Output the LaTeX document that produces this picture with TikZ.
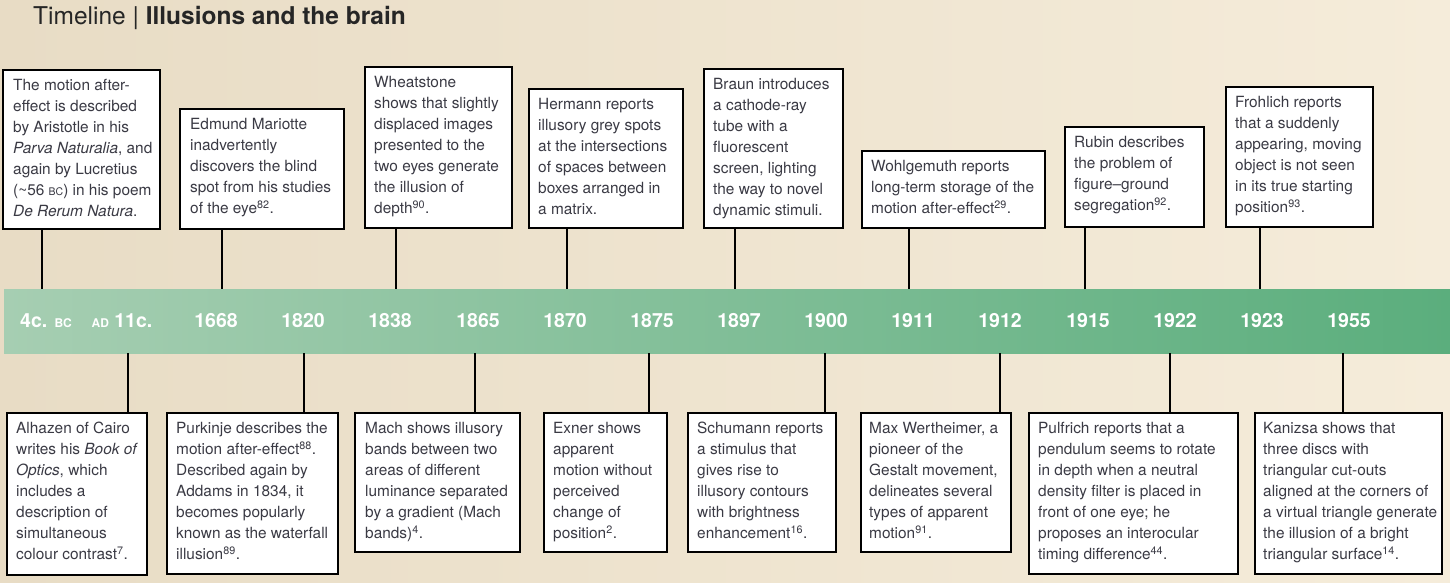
\documentclass[tikz,border=0pt]{standalone}
\usepackage{fontspec}
\setmainfont{TeX Gyre Heros}
\usetikzlibrary{calc}
\definecolor{bgL}{HTML}{E8DCC5}
\definecolor{bgR}{HTML}{F5ECDA}
\definecolor{barL}{HTML}{A6CEB2}
\definecolor{barR}{HTML}{5BAE7D}
\definecolor{txt}{HTML}{3A3A44}
\newcommand\sref[1]{\textsuperscript{#1}}
\newcommand\smc[1]{{\fontsize{10.5}{10.5}\selectfont #1}}
\newcommand\ysmc[1]{{\fontsize{12}{12}\selectfont #1}}
\begin{document}
\begin{tikzpicture}[x=1pt,y=-1pt,
  evbox/.style={draw=black, line width=1.1pt, fill=white, anchor=north west, inner sep=0pt, outer sep=0pt},
  evtext/.style={anchor=north west, inner sep=0pt, align=left, text=txt, font=\fontsize{15.4}{21}\selectfont},
  yr/.style={anchor=base, text=white, font=\bfseries\fontsize{19.5}{19.5}\selectfont},
  conn/.style={draw=black, line width=1.1pt}]
\useasboundingbox (0,0) rectangle (1450,583);
\fill[left color=bgL, right color=bgR] (0,0) rectangle (1450,583);

% title
\node[anchor=base west, inner sep=0pt, text=black!85, font=\fontsize{24.5}{24.5}\selectfont] (title) at (33,25)
  {Timeline | \textbf{Illusions and the brain}};

% bar
\node[anchor=north west, inner sep=0pt, minimum width=1446, minimum height=64, left color=barL, right color=barR, draw=none] (bar) at (4,289) {};

% years
\node[yr] (y1) at (46,327) {4c. \ysmc{BC}};
\node[yr] (y2) at (122,327) {\ysmc{AD} 11c.};
\node[yr] (y3) at (216,327) {1668};
\node[yr] (y4) at (303,327) {1820};
\node[yr] (y5) at (390,327) {1838};
\node[yr] (y6) at (478,327) {1865};
\node[yr] (y7) at (565,327) {1870};
\node[yr] (y8) at (652,327) {1875};
\node[yr] (y9) at (739,327) {1897};
\node[yr] (y10) at (826,327) {1900};
\node[yr] (y11) at (913,327) {1911};
\node[yr] (y12) at (1000,327) {1912};
\node[yr] (y13) at (1088,327) {1915};
\node[yr] (y14) at (1175,327) {1922};
\node[yr] (y15) at (1262,327) {1923};
\node[yr] (y16) at (1349,327) {1955};

% tick coordinates on bar
\coordinate (k1) at (42,289);
\coordinate (k2) at (222,289);
\coordinate (k3) at (396,289);
\coordinate (k4) at (567,289);
\coordinate (k5) at (735,289);
\coordinate (k6) at (909,289);
\coordinate (k7) at (1085,289);
\coordinate (k8) at (1260,289);
\coordinate (m1) at (128,353);
\coordinate (m2) at (304,353);
\coordinate (m3) at (475,353);
\coordinate (m4) at (649,353);
\coordinate (m5) at (825,353);
\coordinate (m6) at (1000,353);
\coordinate (m7) at (1170,353);
\coordinate (m8) at (1343,353);

% top boxes
\node[evbox, minimum width=157, minimum height=159] (t1) at (3,70) {};
\node[evtext] (t1x) at ($(t1.north west)+(10,6)$) {\strut The motion after-\\effect is described\\by Aristotle in his\\\textit{Parva Naturalia}, and\\again by Lucretius\\(\textasciitilde56 \smc{BC}) in his poem\\\textit{De Rerum Natura}.\strut};

\node[evbox, minimum width=164, minimum height=120] (t2) at (180,109) {};
\node[evtext] (t2x) at ($(t2.north west)+(10,6)$) {\strut Edmund Mariotte\\inadvertently\\discovers the blind\\spot from his studies\\of the eye\sref{82}.\strut};

\node[evbox, minimum width=147, minimum height=161] (t3) at (365,67) {};
\node[evtext] (t3x) at ($(t3.north west)+(9,6)$) {\strut Wheatstone\\shows that slightly\\displaced images\\presented to the\\two eyes generate\\the illusion of\\depth\sref{90}.\strut};

\node[evbox, minimum width=154, minimum height=139] (t4) at (529,89) {};
\node[evtext] (t4x) at ($(t4.north west)+(9,6)$) {\strut Hermann reports\\illusory grey spots\\at the intersections\\of spaces between\\boxes arranged in\\a matrix.\strut};

\node[evbox, minimum width=139, minimum height=159] (t5) at (704,69) {};
\node[evtext] (t5x) at ($(t5.north west)+(9,6)$) {\strut Braun introduces\\a cathode-ray\\tube with a\\fluorescent\\screen, lighting\\the way to novel\\dynamic stimuli.\strut};

\node[evbox, minimum width=183, minimum height=77] (t6) at (862,151) {};
\node[evtext] (t6x) at ($(t6.north west)+(9,6)$) {\strut Wohlgemuth reports\\long-term storage of the\\motion after-effect\sref{29}.\strut};

\node[evbox, minimum width=139, minimum height=100] (t7) at (1065,127) {};
\node[evtext] (t7x) at ($(t7.north west)+(9,6)$) {\strut Rubin describes\\the problem of\\figure--ground\\segregation\sref{92}.\strut};

\node[evbox, minimum width=147, minimum height=140] (t8) at (1226,87) {};
\node[evtext] (t8x) at ($(t8.north west)+(9,6)$) {\strut Frohlich reports\\that a suddenly\\appearing, moving\\object is not seen\\in its true starting\\position\sref{93}.\strut};

% bottom boxes
\node[evbox, minimum width=140, minimum height=162] (b1) at (7,413) {};
\node[evtext] (b1x) at ($(b1.north west)+(9,6)$) {\strut Alhazen of Cairo\\writes his \textit{Book of}\\\textit{Optics}, which\\includes a\\description of\\simultaneous\\colour contrast\sref{7}.\strut};

\node[evbox, minimum width=171, minimum height=161] (b2) at (167,413) {};
\node[evtext] (b2x) at ($(b2.north west)+(9,6)$) {\strut Purkinje describes the\\motion after-effect\sref{88}.\\Described again by\\Addams in 1834, it\\becomes popularly\\known as the waterfall\\illusion\sref{89}.\strut};

\node[evbox, minimum width=165, minimum height=139] (b3) at (355,413) {};
\node[evtext] (b3x) at ($(b3.north west)+(10,6)$) {\strut Mach shows illusory\\bands between two\\areas of different\\luminance separated\\by a gradient (Mach\\bands)\sref{4}.\strut};

\node[evbox, minimum width=123, minimum height=139] (b4) at (544,413) {};
\node[evtext] (b4x) at ($(b4.north west)+(9,6)$) {\strut Exner shows\\apparent\\motion without\\perceived\\change of\\position\sref{2}.\strut};

\node[evbox, minimum width=148, minimum height=139] (b5) at (688,413) {};
\node[evtext] (b5x) at ($(b5.north west)+(9,6)$) {\strut Schumann reports\\a stimulus that\\gives rise to\\illusory contours\\with brightness\\enhancement\sref{16}.\strut};

\node[evbox, minimum width=150, minimum height=139] (b6) at (861,413) {};
\node[evtext] (b6x) at ($(b6.north west)+(8,6)$) {\strut Max Wertheimer, a\\pioneer of the\\Gestalt movement,\\delineates several\\types of apparent\\motion\sref{91}.\strut};

\node[evbox, minimum width=209, minimum height=161] (b7) at (1029,413) {};
\node[evtext] (b7x) at ($(b7.north west)+(9,6)$) {\strut Pulfrich reports that a\\pendulum seems to rotate\\in depth when a neutral\\density filter is placed in\\front of one eye; he\\proposes an interocular\\timing difference\sref{44}.\strut};

\node[evbox, minimum width=187, minimum height=161] (b8) at (1255,413) {};
\node[evtext] (b8x) at ($(b8.north west)+(8,6)$) {\strut Kanizsa shows that\\three discs with\\triangular cut-outs\\aligned at the corners of\\a virtual triangle generate\\the illusion of a bright\\triangular surface\sref{14}.\strut};

% connectors
\foreach \i in {1,...,8} {
  \draw[conn] (t\i.south -| k\i) -- (k\i);
  \draw[conn] (m\i) -- (b\i.north -| m\i);
}
\end{tikzpicture}
\end{document}
